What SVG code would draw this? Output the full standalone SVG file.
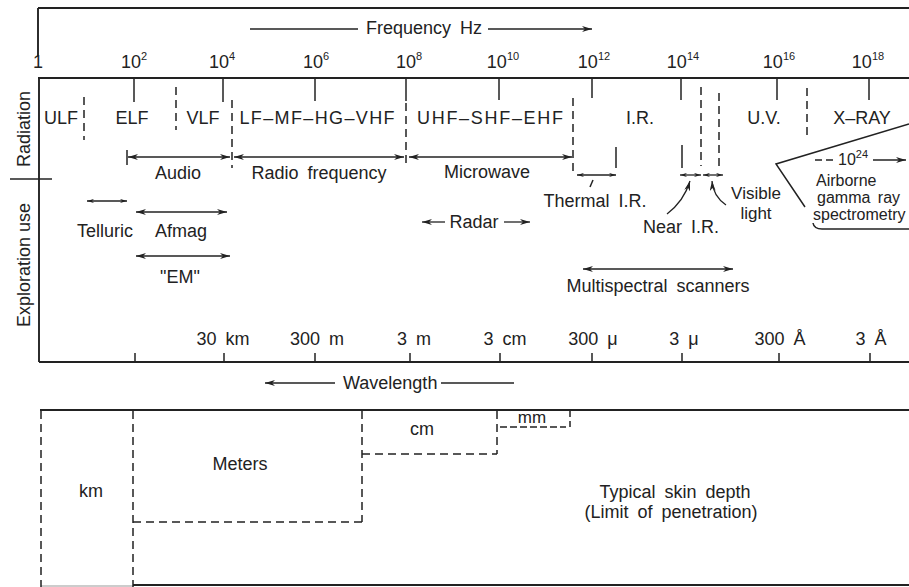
<svg xmlns="http://www.w3.org/2000/svg" width="909" height="587" viewBox="0 0 909 587">
<style>
  text { font-family: "Liberation Sans", Arial, sans-serif; font-size: 18px; fill: #222; }
  .sm { font-size: 11px; }
  .f17 { font-size: 17px; }
  .f16 { font-size: 16px; }
  .ln { stroke: #222; stroke-width: 1.5; fill: none; }
  .frame { stroke: #222; stroke-width: 1.9; fill: none; }
  .dash { stroke: #222; stroke-width: 1.5; fill: none; stroke-dasharray: 8 5; }
  .arr { stroke: #222; stroke-width: 1.3; fill: none; marker-end: url(#ah); }
  .darr { stroke: #222; stroke-width: 1.3; fill: none; marker-end: url(#ah); marker-start: url(#ah); }
  .sarr { stroke: #222; stroke-width: 1.3; fill: none; marker-end: url(#ahs); marker-start: url(#ahs); }
</style>
<defs>
  <marker id="ah" viewBox="0 0 10 6" refX="10" refY="3" markerWidth="10" markerHeight="6" orient="auto-start-reverse" markerUnits="userSpaceOnUse">
    <path d="M0,0 L10,3 L0,6 L3,3 z" fill="#222"/>
  </marker>
  <marker id="ahs" viewBox="0 0 10 6" refX="10" refY="3" markerWidth="7" markerHeight="5" orient="auto-start-reverse" markerUnits="userSpaceOnUse">
    <path d="M0,0 L10,3 L0,6 L3,3 z" fill="#222"/>
  </marker>
</defs>
<rect width="909" height="587" fill="#fff"/>

<g id="frame">
  <line class="frame" x1="38" y1="8" x2="909" y2="8"/>
  <line class="frame" x1="38" y1="8" x2="38" y2="56"/>
  <line class="frame" x1="38" y1="78" x2="909" y2="78"/>
  <line class="frame" x1="39" y1="78" x2="39" y2="362"/>
  <line class="frame" x1="39" y1="362" x2="909" y2="362"/>
  <line class="ln" x1="10" y1="179" x2="52" y2="179"/>
  <text transform="translate(30,129) rotate(-90)" text-anchor="middle">Radiation</text>
  <text transform="translate(30,265) rotate(-90)" text-anchor="middle">Exploration use</text>
</g>

<g id="frequency-axis">
  <line class="ln" x1="250" y1="29" x2="358" y2="29"/>
  <text x="424" y="34" text-anchor="middle" word-spacing="4">Frequency Hz</text>
  <line class="arr" x1="488" y1="29" x2="592" y2="29"/>
  <text x="38" y="68" text-anchor="middle">1</text>
  <text x="134" y="68" text-anchor="middle">10<tspan class="sm" dy="-8">2</tspan></text>
  <text x="222" y="68" text-anchor="middle">10<tspan class="sm" dy="-8">4</tspan></text>
  <text x="316" y="68" text-anchor="middle">10<tspan class="sm" dy="-8">6</tspan></text>
  <text x="409" y="68" text-anchor="middle">10<tspan class="sm" dy="-8">8</tspan></text>
  <text x="503" y="68" text-anchor="middle">10<tspan class="sm" dy="-8">10</tspan></text>
  <text x="594" y="68" text-anchor="middle">10<tspan class="sm" dy="-8">12</tspan></text>
  <text x="683" y="68" text-anchor="middle">10<tspan class="sm" dy="-8">14</tspan></text>
  <text x="779" y="68" text-anchor="middle">10<tspan class="sm" dy="-8">16</tspan></text>
  <text x="868" y="68" text-anchor="middle">10<tspan class="sm" dy="-8">18</tspan></text>
  <g class="ln">
    <line x1="134" y1="79" x2="134" y2="102"/>
    <line x1="223" y1="79" x2="223" y2="102"/>
    <line x1="315" y1="79" x2="315" y2="101"/>
    <line x1="406" y1="79" x2="406" y2="101"/>
    <line x1="499" y1="79" x2="499" y2="100"/>
    <line x1="592" y1="79" x2="592" y2="98"/>
    <line x1="681" y1="79" x2="681" y2="100"/>
    <line x1="777" y1="79" x2="777" y2="100"/>
    <line x1="869" y1="79" x2="869" y2="100"/>
  </g>
</g>

<g id="radiation-bands">
  <text x="61" y="124" text-anchor="middle">ULF</text>
  <text x="132" y="124" text-anchor="middle">ELF</text>
  <text x="203" y="124" text-anchor="middle">VLF</text>
  <text x="317" y="124" text-anchor="middle" textLength="155" lengthAdjust="spacing">LF–MF–HG–VHF</text>
  <text x="490" y="124" text-anchor="middle" textLength="146" lengthAdjust="spacing">UHF–SHF–EHF</text>
  <text x="640" y="124" text-anchor="middle">I.R.</text>
  <text x="764" y="124" text-anchor="middle">U.V.</text>
  <text x="862" y="124" text-anchor="middle">X–RAY</text>
  <g class="dash">
    <line x1="84" y1="97" x2="84" y2="140"/>
    <line x1="176" y1="87" x2="176" y2="130"/>
    <line x1="232" y1="100" x2="232" y2="168"/>
    <line x1="406" y1="103" x2="406" y2="166"/>
    <line x1="573" y1="98" x2="573" y2="174"/>
    <line x1="701" y1="87" x2="701" y2="166"/>
    <line x1="719" y1="93" x2="719" y2="166"/>
    <line x1="807" y1="88" x2="807" y2="140"/>
  </g>
  <line class="ln" x1="616" y1="147" x2="616" y2="168"/>
  <line class="ln" x1="682" y1="145" x2="682" y2="168"/>
</g>

<g id="connectors">
  <line class="ln" x1="127" y1="150" x2="127" y2="165"/>
  <line class="darr" x1="128" y1="157" x2="230" y2="157"/>
  <line class="darr" x1="234" y1="157" x2="404" y2="157"/>
  <line class="darr" x1="409" y1="157" x2="572" y2="157"/>
  <line class="sarr" x1="577" y1="175" x2="616" y2="175"/>
  <line class="ln" x1="590" y1="187" x2="593" y2="180"/>
  <line class="sarr" x1="680" y1="175" x2="701" y2="175"/>
  <line class="sarr" x1="703" y1="175" x2="723" y2="175"/>
  <path class="arr" d="M667,214 Q684,201 690,181"/>
  <path class="arr" d="M726,205 Q713,196 712,181"/>
  <line class="sarr" x1="87" y1="201" x2="127" y2="201"/>
  <line class="darr" x1="136" y1="212" x2="227" y2="212"/>
  <line class="darr" x1="136" y1="256" x2="230" y2="256"/>
  <line class="arr" x1="445" y1="222" x2="422" y2="222"/>
  <line class="arr" x1="504" y1="222" x2="530" y2="222"/>
  <line class="darr" x1="583" y1="269" x2="733" y2="269"/>
  <polyline class="ln" points="909,124 776,164 805,207"/>
  <path class="ln" d="M813,223 Q814,229 822,229 L909,229"/>
  <line class="ln" x1="815" y1="160" x2="836" y2="160" stroke-dasharray="7 4"/>
  <line class="arr" x1="873" y1="160" x2="906" y2="160"/>
</g>

<g id="use-labels">
  <text x="178" y="179" text-anchor="middle">Audio</text>
  <text x="319" y="179" text-anchor="middle" word-spacing="4">Radio frequency</text>
  <text x="487" y="178" text-anchor="middle">Microwave</text>
  <text x="105" y="237" text-anchor="middle">Telluric</text>
  <text x="181" y="237" text-anchor="middle">Afmag</text>
  <text x="180" y="283" text-anchor="middle">"EM"</text>
  <text x="474" y="228" text-anchor="middle">Radar</text>
  <text x="595" y="207" text-anchor="middle" word-spacing="4">Thermal I.R.</text>
  <text x="681" y="233" text-anchor="middle" word-spacing="4">Near I.R.</text>
  <text class="f17" x="756" y="199" text-anchor="middle">Visible</text>
  <text class="f17" x="756" y="219" text-anchor="middle">light</text>
  <text class="f16" x="838" y="165">10<tspan class="sm" dy="-7">24</tspan></text>
  <text class="f16" x="816" y="186">Airborne</text>
  <text class="f16" x="817" y="203" word-spacing="3">gamma ray</text>
  <text class="f16" x="813" y="220">spectrometry</text>
  <text x="658" y="292" text-anchor="middle" word-spacing="4">Multispectral scanners</text>
</g>

<g id="wavelength-axis">
  <text x="223" y="345" text-anchor="middle" word-spacing="4">30 km</text>
  <text x="317" y="345" text-anchor="middle" word-spacing="4">300 m</text>
  <text x="414" y="345" text-anchor="middle" word-spacing="4">3 m</text>
  <text x="505" y="345" text-anchor="middle" word-spacing="4">3 cm</text>
  <text x="593" y="345" text-anchor="middle" word-spacing="4">300 μ</text>
  <text x="684" y="345" text-anchor="middle" word-spacing="4">3 μ</text>
  <text x="780" y="345" text-anchor="middle" word-spacing="4">300 Å</text>
  <text x="871" y="345" text-anchor="middle" word-spacing="4">3 Å</text>
  <g class="ln">
    <line x1="135" y1="353" x2="135" y2="362"/>
    <line x1="224" y1="353" x2="224" y2="362"/>
    <line x1="315" y1="353" x2="315" y2="362"/>
    <line x1="410" y1="353" x2="410" y2="362"/>
    <line x1="500" y1="353" x2="500" y2="362"/>
    <line x1="592" y1="353" x2="592" y2="362"/>
    <line x1="682" y1="353" x2="682" y2="362"/>
    <line x1="779" y1="353" x2="779" y2="362"/>
    <line x1="870" y1="353" x2="870" y2="362"/>
  </g>
  <line class="arr" x1="335" y1="383" x2="265" y2="383"/>
  <text x="343" y="389">Wavelength</text>
  <line class="ln" x1="441" y1="383" x2="514" y2="383"/>
</g>

<g id="skin-depth">
  <line class="frame" x1="40" y1="410" x2="909" y2="410"/>
  <line class="frame" x1="133" y1="585" x2="909" y2="585"/>
  <line x1="41" y1="586" x2="133" y2="586" stroke="#999" stroke-width="1.2"/>
  <g class="dash">
    <line x1="41" y1="411" x2="41" y2="587"/>
    <line x1="133" y1="411" x2="133" y2="587"/>
    <line x1="362" y1="411" x2="362" y2="522"/>
    <line x1="133" y1="522" x2="362" y2="522"/>
    <line x1="362" y1="454" x2="497" y2="454"/>
    <line x1="497" y1="411" x2="497" y2="454"/>
    <line x1="500" y1="427" x2="566" y2="427" stroke-dasharray="7 3"/>
    <line x1="570" y1="411" x2="570" y2="427" stroke-dasharray="6 4"/>
  </g>
  <text x="91" y="497" text-anchor="middle">km</text>
  <text x="240" y="470" text-anchor="middle">Meters</text>
  <text x="422" y="435" text-anchor="middle">cm</text>
  <text class="f17" x="532" y="423" text-anchor="middle">mm</text>
  <text x="675" y="498" text-anchor="middle" word-spacing="4">Typical skin depth</text>
  <text x="671" y="518" text-anchor="middle" word-spacing="4">(Limit of penetration)</text>
</g>
</svg>
